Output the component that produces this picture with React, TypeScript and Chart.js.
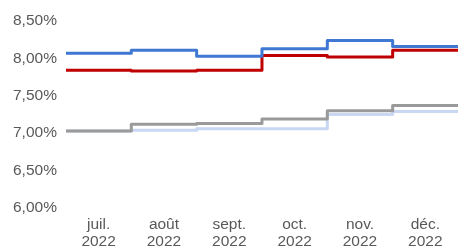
import React, { useEffect, useRef } from 'react';
import { Chart, registerables } from 'chart.js';

Chart.register(...registerables);

const months = ['juil.', 'août', 'sept.', 'oct.', 'nov.', 'déc.'];
const years = ['2022', '2022', '2022', '2022', '2022', '2022'];

const seriesBlue = [8.07, 8.11, 8.03, 8.13, 8.24, 8.16];
const seriesRed = [7.84, 7.83, 7.84, 8.04, 8.02, 8.11];
const seriesGray = [7.03, 7.12, 7.13, 7.19, 7.3, 7.37];
const seriesLightBlue = [7.03, 7.04, 7.06, 7.06, 7.25, 7.29];

const yTicks = [6.0, 6.5, 7.0, 7.5, 8.0, 8.5];

function toSteps(values: number[]) {
  const pts = values.map((v, i) => ({ x: i, y: v }));
  pts.push({ x: values.length, y: values[values.length - 1] });
  return pts;
}

export default function App() {
  const ref = useRef<HTMLCanvasElement | null>(null);

  useEffect(() => {
    if (!ref.current) return;
    const yFont = { family: 'Liberation Sans, Arial, sans-serif', size: 15.5 };
    const xFont = { family: 'Liberation Sans, Arial, sans-serif', size: 15.5, lineHeight: 1.1 };
    const mk = (data: number[], color: string, order: number) => ({
      data: toSteps(data),
      borderColor: color,
      backgroundColor: color,
      borderWidth: 3,
      pointRadius: 0,
      stepped: true as const,
      borderJoinStyle: 'round' as const,
      borderCapStyle: 'butt' as const,
      fill: false,
      order,
    });
    const chart = new Chart(ref.current, {
      type: 'line',
      data: {
        datasets: [
          mk(seriesBlue, '#3f78d3', 1),
          mk(seriesRed, '#c00000', 2),
          mk(seriesGray, '#9a9a9a', 3),
          mk(seriesLightBlue, '#c8d8f2', 4),
        ],
      },
      options: {
        animation: false,
        responsive: true,
        maintainAspectRatio: false,
        layout: { padding: { top: 21, right: 5, left: 4, bottom: -9 } },
        plugins: { legend: { display: false }, tooltip: { enabled: false } },
        scales: {
          x: {
            type: 'linear',
            min: 0,
            max: months.length,
            grid: { display: false, drawTicks: false },
            border: { display: false },
            afterBuildTicks: (axis: any) => {
              axis.ticks = months.map((_, i) => ({ value: i + 0.5 }));
            },
            ticks: {
              autoSkip: false,
              maxRotation: 0,
              padding: 8,
              color: '#595959',
              font: xFont,
              callback: (value: any) => {
                const i = Math.floor(Number(value));
                return [months[i], years[i]];
              },
            },
          },
          y: {
            min: yTicks[0],
            max: yTicks[yTicks.length - 1],
            grid: { display: false, drawTicks: false },
            border: { display: false },
            afterBuildTicks: (axis: any) => {
              axis.ticks = yTicks.map((v) => ({ value: v }));
            },
            ticks: {
              padding: 9,
              color: '#595959',
              font: yFont,
              callback: (value: any) => Number(value).toFixed(2).replace('.', ',') + '%',
            },
          },
        },
      },
    });
    return () => chart.destroy();
  }, []);

  return (
    <div style={{ position: 'fixed', left: 0, top: 0, width: 463, height: 249, background: '#fff' }}>
      <canvas ref={ref} />
    </div>
  );
}
